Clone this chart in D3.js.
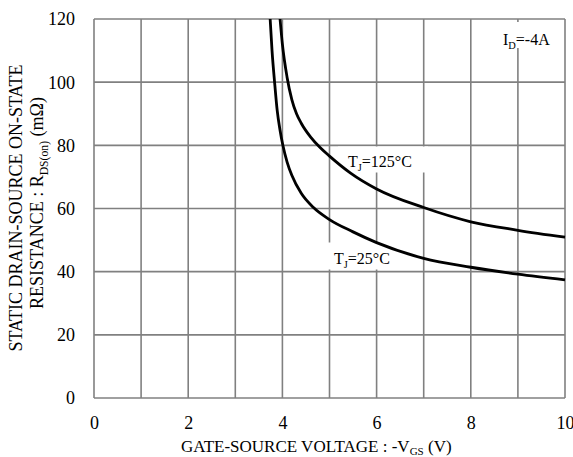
<!DOCTYPE html>
<html><head><meta charset="utf-8">
<script src="https://cdn.jsdelivr.net/npm/d3@7"></script>
<style>
html,body{margin:0;padding:0;background:#fff;}
svg text{font-family:"Liberation Serif","Tinos","Times New Roman",Times,"DejaVu Serif",serif !important;fill:#000;}
</style></head>
<body><svg id="c" width="573" height="457"></svg>
<script>
const vgs25 = [3.74, 3.78, 3.84, 3.89, 3.95, 4.01, 4.1, 4.2, 4.4, 4.66, 5.0, 5.5, 6, 7, 8, 9, 10];
const rds25 = [120, 110, 99, 91, 84.8, 80, 74.7, 70.5, 64.8, 60.3, 56.5, 52.6, 49.2, 44.2, 41.4, 39.2, 37.4];
const vgs125 = [3.95, 4.0, 4.1, 4.2, 4.3, 4.4, 4.6, 4.8, 5.0, 5.44, 6, 7, 8, 9, 10];
const rds125 = [120, 112, 101.5, 94.5, 90, 87, 82.6, 79.3, 76.6, 71.3, 66.2, 60.3, 55.8, 53.1, 50.9];
const xGrid = [0,1,2,3,4,5,6,7,8,9,10];
const xTickLabels = [0,2,4,6,8,10];
const yTickLabels = [0,20,40,60,80,100,120];

const FONT = '"Liberation Serif","Tinos","Times New Roman",Times,"DejaVu Serif",serif';
const svg = d3.select("#c");
const L=94, T=19, W=471, H=379;
const x = d3.scaleLinear().domain([0,10]).range([L, L+W]);
const y = d3.scaleLinear().domain([0,120]).range([T+H, T]);
const gridColor = "#808080";

const g = svg.append("g");
g.selectAll("line.vx").data(xGrid).join("line")
  .attr("x1",d=>x(d)).attr("x2",d=>x(d)).attr("y1",y(0)).attr("y2",y(120))
  .attr("stroke",gridColor).attr("stroke-width",1.6);
g.selectAll("line.hy").data(yTickLabels).join("line")
  .attr("x1",x(0)).attr("x2",x(10)).attr("y1",d=>y(d)).attr("y2",d=>y(d))
  .attr("stroke",gridColor).attr("stroke-width",1.6);

const xa = d3.axisBottom(x).tickValues(xTickLabels).tickSize(0).tickPadding(0).tickFormat(d3.format("d"));
const xg = svg.append("g").attr("transform",`translate(0,${y(0)})`).call(xa);
xg.attr("font-family",FONT);
xg.select(".domain").remove();
xg.selectAll("text").attr("font-size",18).attr("dy",null).attr("y",31);
const ya = d3.axisLeft(y).tickValues(yTickLabels).tickSize(0).tickPadding(0).tickFormat(d3.format("d"));
const yg = svg.append("g").attr("transform",`translate(${L-19},0)`).call(ya);
yg.attr("font-family",FONT);
yg.select(".domain").remove();
yg.selectAll("text").attr("font-size",18).attr("dy","0.33em");

function mask(x0,y0,w,h){ svg.append("rect").attr("x",x0).attr("y",y0).attr("width",w).attr("height",h).attr("fill","#fff"); }
mask(338,146.5,90,26);
mask(325,242.5,70,27);
mask(500,22,58,26);

const line = d3.line().x(d=>x(d[0])).y(d=>y(d[1])).curve(d3.curveMonotoneX);
svg.append("path").datum(vgs25.map((v,i)=>[v,rds25[i]])).attr("d",line)
  .attr("fill","none").attr("stroke","#000").attr("stroke-width",2.8);
svg.append("path").datum(vgs125.map((v,i)=>[v,rds125[i]])).attr("d",line)
  .attr("fill","none").attr("stroke","#000").attr("stroke-width",2.8);

function subText(xp,yp,parts,size,sd){
  const t = svg.append("text").attr("x",xp).attr("y",yp).attr("font-size",size).attr("font-family",FONT);
  const d = sd || size*0.25;
  parts.forEach(p=>{
    if(p.sub){ t.append("tspan").attr("font-size",size*0.65).attr("dy",d).text(p.t); }
    else { t.append("tspan").attr("dy",p.after? -d:null).text(p.t); }
  });
  return t;
}
subText(348,166.5,[{t:"T"},{t:"J",sub:true},{t:"=125°C",after:true}],16);
subText(334,263.5,[{t:"T"},{t:"J",sub:true},{t:"=25°C",after:true}],16);
subText(503,44.5,[{t:"I"},{t:"D",sub:true},{t:"=-4A",after:true}],16);

subText(181,452,[{t:"GATE-SOURCE VOLTAGE : -V"},{t:"GS",sub:true},{t:" (V)",after:true}],17,3);

svg.append("text").attr("transform",`translate(22,208)rotate(-90)`).attr("text-anchor","middle")
  .attr("font-family",FONT).attr("font-size",18).text("STATIC DRAIN-SOURCE ON-STATE");
const yt2 = svg.append("text").attr("transform",`translate(43,203)rotate(-90)`).attr("text-anchor","middle")
  .attr("font-family",FONT).attr("font-size",18);
yt2.append("tspan").text("RESISTANCE : R");
yt2.append("tspan").attr("font-size",11.7).attr("dy",4.5).text("DS(on)");
yt2.append("tspan").attr("dy",-4.5).text(" (mΩ)");
</script></body></html>
